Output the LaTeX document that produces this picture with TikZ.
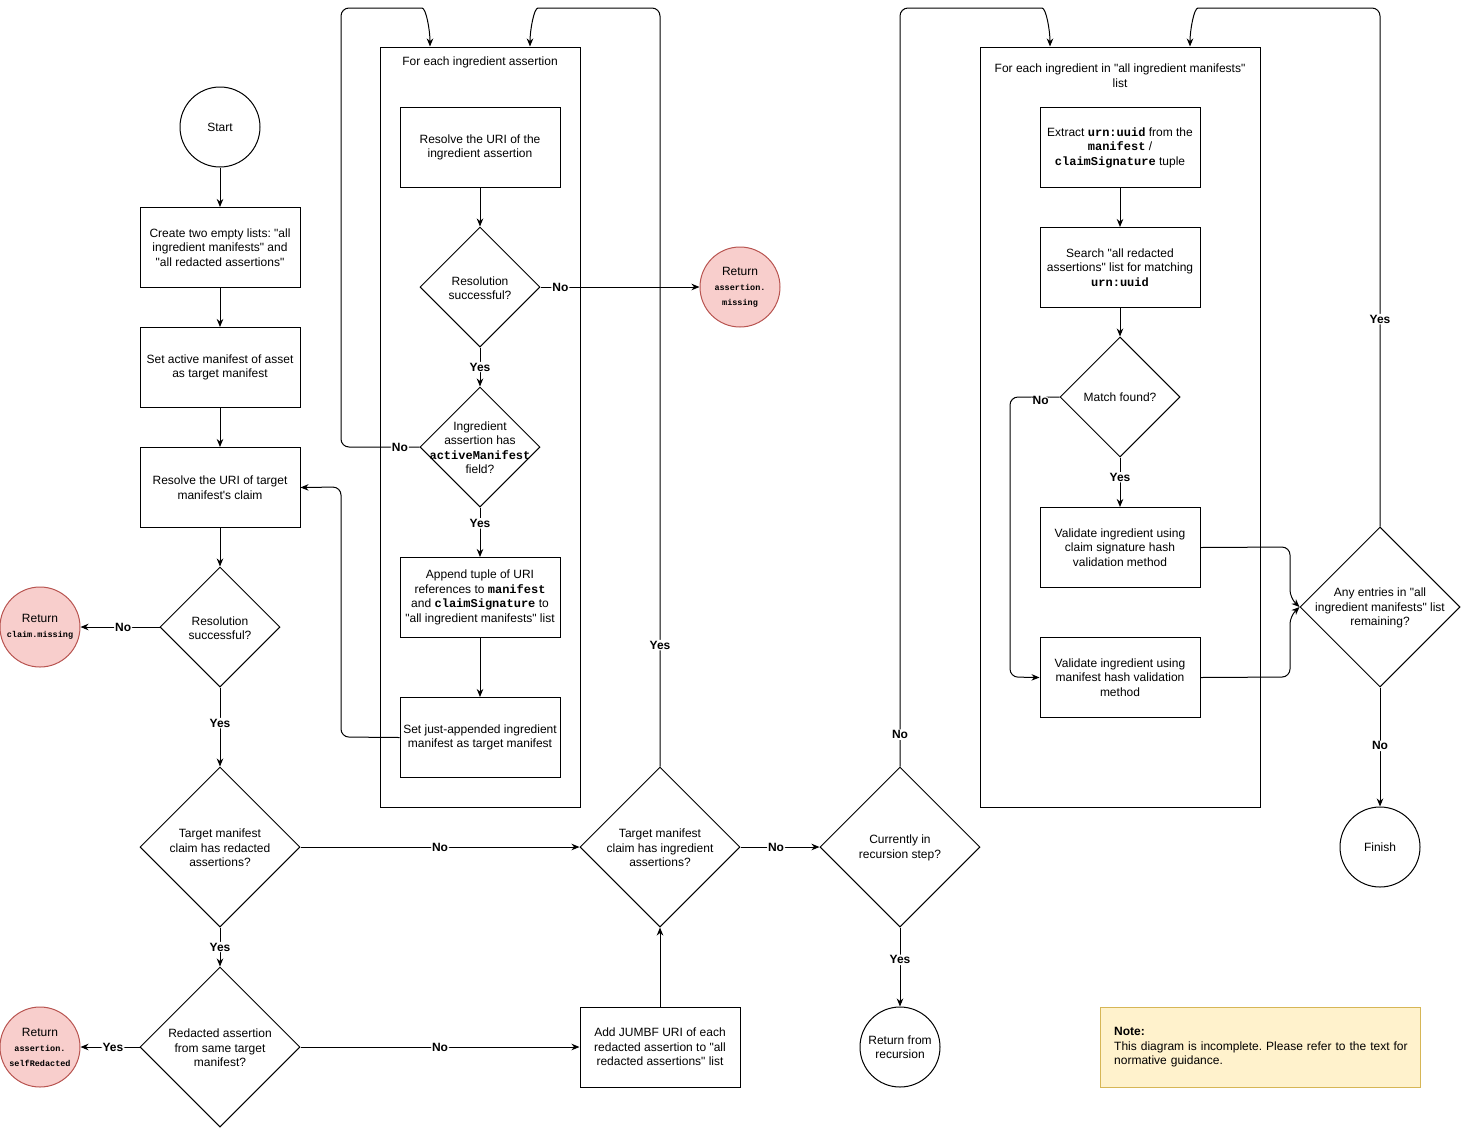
\documentclass[tikz,border=0pt]{standalone}
\usepackage{fontspec}
\setmainfont{Liberation Sans}[Ligatures=TeXOff]
\setmonofont{Liberation Mono}[Ligatures=TeXOff]
\usetikzlibrary{shapes.geometric,arrows.meta}
\definecolor{redfill}{HTML}{F8CECC}
\definecolor{redline}{HTML}{B85450}
\definecolor{notefill}{HTML}{FFF2CC}
\definecolor{noteline}{HTML}{D6B656}
\newcommand{\mcode}[1]{{\ttfamily\bfseries #1}}
\newcommand{\mcsmall}[1]{{\fontsize{8.5}{10}\selectfont\ttfamily\bfseries #1}}
\frenchspacing
\begin{document}
\begin{tikzpicture}[x=1pt,y=-1pt,
  every node/.style={font=\fontsize{12}{14.5}\selectfont},
  box/.style={draw, line width=1pt, minimum width=160, minimum height=80, inner sep=0, align=center},
  dia/.style={draw, diamond, line width=1pt, inner sep=0, aspect=1},
  term/.style={draw, circle, line width=1pt, minimum size=80, inner sep=0, align=center},
  ret/.style={term, fill=redfill, draw=redline},
  cont/.style={draw, line width=1pt, inner sep=0},
  arr/.style={line width=1pt, -{Stealth[length=8pt,width=6.5pt,inset=2.5pt]}, rounded corners=8},
  lab/.style={fill=white, inner sep=1pt, font=\fontsize{12}{14}\selectfont\bfseries},
  txt/.style={align=center, inner sep=0},
]
\useasboundingbox (0,0) rectangle (1461,1128);

% containers
\node[cont, minimum width=200, minimum height=760] (c1) at (480,427) {};
\node[txt] (c1t) at (480,62.5) {For each ingredient assertion};
\node[cont, minimum width=280, minimum height=760] (c2) at (1120,427) {};
\node[txt] (c2t) at (1120,75.5) {For each ingredient in "all ingredient manifests"\\list};

% left column
\node[term] (start) at (220,127) {Start};
\node[box] (create) at (220,247.5) {Create two empty lists: "all\\ingredient manifests" and\\"all redacted assertions"};
\node[box] (setact) at (220,367.5) {Set active manifest of asset\\as target manifest};
\node[box] (rt) at (220,487.5) {Resolve the URI of target\\manifest's claim};
\node[dia, minimum size=120] (rs) at (220,627) {};
\node[txt] (rst) at (220,628) {Resolution\\successful?};
\node[ret] (cm) at (40,627) {Return\\\mcsmall{claim.missing}};
\node[dia, minimum size=160] (tr) at (220,847) {};
\node[txt] (trt) at (220,848) {Target manifest\\claim has redacted\\assertions?};
\node[dia, minimum size=160] (rsm) at (220,1047) {};
\node[txt] (rsmt) at (220,1048) {Redacted assertion\\from same target\\manifest?};
\node[ret] (sr) at (40,1047) {Return\\[1pt]\mcsmall{assertion.}\\\mcsmall{selfRedacted}};

% middle bottom
\node[box] (add) at (660,1047) {Add JUMBF URI of each\\redacted assertion to "all\\redacted assertions" list};
\node[dia, minimum size=160] (ti) at (660,847) {};
\node[txt] (tit) at (660,848) {Target manifest\\claim has ingredient\\assertions?};
\node[dia, minimum size=160] (cr) at (900,847) {};
\node[txt] (crt) at (900,848) {Currently in\\recursion step?};
\node[term] (rfr) at (900,1047) {Return from\\recursion};

% container 1 content
\node[box] (ru) at (480,147.5) {Resolve the URI of the\\ingredient assertion};
\node[dia, minimum size=120] (rs2) at (480,287) {};
\node[txt] (rs2t) at (480,288) {Resolution\\successful?};
\node[ret] (am0) at (740,287) {Return\\[1pt]\mcsmall{assertion.}\\\mcsmall{missing}};
\node[dia, minimum size=120] (am) at (480,447) {};
\node[txt] (amt) at (480,447.5) {Ingredient\\assertion has\\\mcode{activeManifest}\\field?};
\node[box] (app) at (480,597.5) {Append tuple of URI\\references to \mcode{manifest}\\and \mcode{claimSignature} to\\"all ingredient manifests" list};
\node[box] (sj) at (480,737.5) {Set just-appended ingredient\\manifest as target manifest};

% container 2 content
\node[box] (ex) at (1120,147.5) {Extract \mcode{urn:uuid} from the\\\mcode{manifest} /\\\mcode{claimSignature} tuple};
\node[box] (se) at (1120,267.5) {Search "all redacted\\assertions" list for matching\\\mcode{urn:uuid}};
\node[dia, minimum size=120] (mf) at (1120,397) {};
\node[txt] (mft) at (1120,397.5) {Match found?};
\node[box] (vc) at (1120,547.5) {Validate ingredient using\\claim signature hash\\validation method};
\node[box] (vm) at (1120,677.5) {Validate ingredient using\\manifest hash validation\\method};
\node[dia, minimum size=160] (any) at (1380,607) {};
\node[txt] (anyt) at (1380,608) {Any entries in "all\\ingredient manifests" list\\remaining?};
\node[term] (fin) at (1380,847) {Finish};

% note
\node[draw=noteline, fill=notefill, line width=1pt, minimum width=320, minimum height=80, inner sep=0] (note) at (1260,1047) {};
\node[align=left, anchor=west, inner sep=0, text width=300] (notet) at (1114,1047.5) {\textbf{Note:}\\This diagram is incomplete. Please refer to the text for\\normative guidance.};

% connectors left column
\draw[arr] (start) -- (create);
\draw[arr] (create) -- (setact);
\draw[arr] (setact) -- (rt);
\draw[arr] (rt) -- (rs);
\draw[arr] (rs.west) -- node[lab, pos=0.46]{No} (cm.east);
\draw[arr] (rs.south) -- node[lab, pos=0.45]{Yes} (tr.north);
\draw[arr] (tr.east) -- node[lab]{No} (ti.west);
\draw[arr] (tr.south) -- node[lab]{Yes} (rsm.north);
\draw[arr] (rsm.west) -- node[lab, pos=0.45]{Yes} (sr.east);
\draw[arr] (rsm.east) -- node[lab]{No} (add.west);
\draw[arr] (add.north) -- (ti.south);
\draw[arr] (ti.east) -- node[lab, pos=0.45]{No} (cr.west);
\draw[arr] (cr.south) -- node[lab, pos=0.41]{Yes} (rfr.north);

% loop 1
\draw[arr] (ti.north) -- node[lab, pos=0.16]{Yes} (660,8) -- (546,8) .. controls (534,8) and (530,30) .. ([xshift=50]c1.north);
\draw[arr] (am.west) -- node[lab, pos=0.25]{No} (341,447) -- (341,8) -- (414,8) .. controls (426,8) and (430,30) .. ([xshift=-50]c1.north);
\draw[arr] (sj.west) -- (341,737) -- (341,487) -- (rt.east);
\draw[arr] (ru) -- (rs2);
\draw[arr] (rs2.east) -- node[lab, pos=0.125]{No} (am0.west);
\draw[arr] (rs2.south) -- node[lab]{Yes} (am.north);
\draw[arr] (am.south) -- node[lab, pos=0.32]{Yes} (app.north);
\draw[arr] (app) -- (sj);

% loop 2
\draw[arr] (cr.north) -- node[lab, pos=0.042]{No} (900,8) -- (1034,8) .. controls (1046,8) and (1050,30) .. ([xshift=-70]c2.north);
\draw[arr] (any.north) -- node[lab, pos=0.40]{Yes} (1380,8) -- (1206,8) .. controls (1194,8) and (1190,30) .. ([xshift=70]c2.north);
\draw[arr] (ex) -- (se);
\draw[arr] (se) -- (mf);
\draw[arr] (mf.south) -- node[lab, pos=0.4]{Yes} (vc.north);
\draw[arr] (mf.west) -- node[lab, pos=0.38, yshift=-3]{No} (1010,397) -- (1010,677) -- (vm.west);
\draw[arr] (vc.east) -- (1290,547) -- (1290,598) -- (any.west);
\draw[arr] (vm.east) -- (1290,677) -- (1290,616) -- (any.west);
\draw[arr] (any.south) -- node[lab, pos=0.49]{No} (fin.north);
\end{tikzpicture}
\end{document}
